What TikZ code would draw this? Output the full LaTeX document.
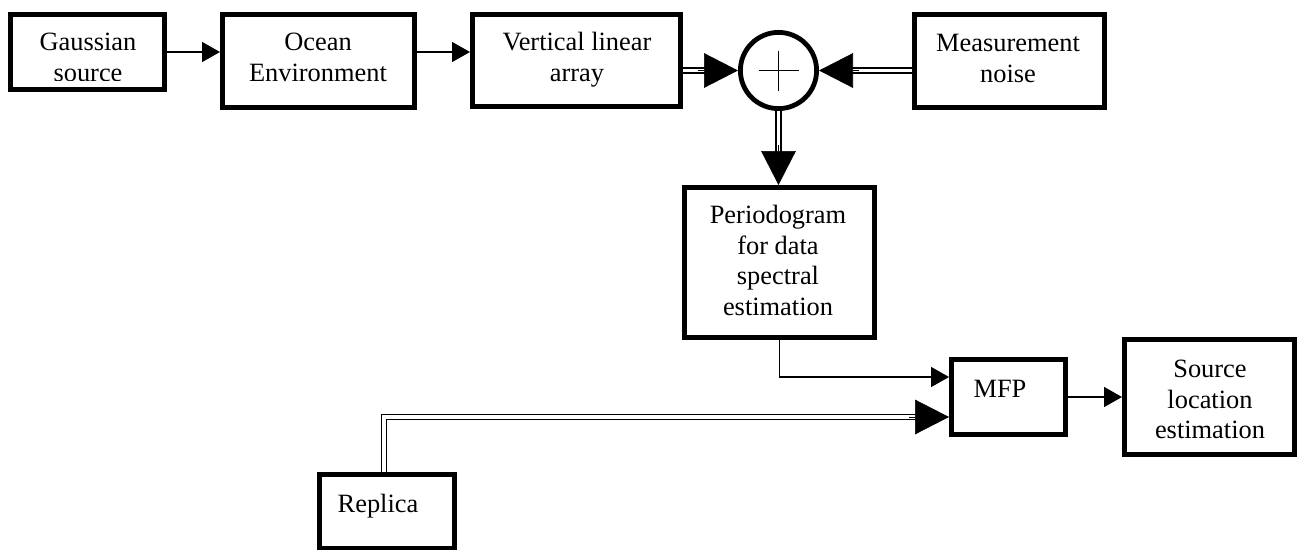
\documentclass[tikz,border=0pt]{standalone}
\usepackage{fontspec}
\setmainfont{Liberation Serif}
\usetikzlibrary{arrows.meta}
\tikzset{
  blk/.style={draw, line width=3.6pt, inner sep=0pt},
  lbl/.style={inner sep=0pt, align=center, font=\fontsize{19.8}{22.9}\selectfont},
  thinline/.style={line width=1.1pt},
  arr/.style={thinline, -{Triangle[length=13.5pt,width=15pt]}},
  dbl/.style={double, line width=1.4pt, double distance=2.4pt},
  bigarr/.style={line width=0.5pt, -{Triangle[length=25.5pt,width=26pt]}},
}
\begin{document}
\begin{tikzpicture}[x=0.75pt,y=-0.75pt]
\useasboundingbox (0,0) rectangle (1297,550);

% blocks
\node[blk, minimum width=115.65pt, minimum height=56.4pt] (G) at (87.5,52) {};
\node[blk, minimum width=144.15pt, minimum height=69.9pt] (O) at (318.5,61) {};
\node[blk, minimum width=156.15pt, minimum height=69.15pt] (V) at (576.5,60.5) {};
\node[blk, minimum width=142.65pt, minimum height=69.9pt] (M) at (1009.5,61) {};
\node[blk, circle, minimum size=57.15pt] (C) at (778.5,70.5) {};
\node[blk, minimum width=142.65pt, minimum height=112.65pt] (P) at (779.5,262.5) {};
\node[blk, minimum width=85.65pt, minimum height=56.4pt] (MFP) at (1008.5,397) {};
\node[blk, minimum width=127.65pt, minimum height=86.4pt] (S) at (1209.5,397) {};
\node[blk, minimum width=101.4pt, minimum height=55.65pt] (R) at (387,511.5) {};

% summing junction
\draw[thinline] ([xshift=-15pt]C.center) -- ([xshift=15pt]C.center);
\draw[thinline] ([yshift=15pt]C.center) -- ([yshift=-15pt]C.center);

% labels (the lower line of the first block is cut off by its frame area)
\begin{scope}
  \clip (8,12) rectangle (167,80);
  \node[lbl] (Gt) at (88,57.5) {Gaussian\\source};
\end{scope}
\node[lbl] (Ot) at (318,57.5) {Ocean\\Environment};
\node[lbl] (Vt) at (577,59.5) {Vertical linear\\array};
\node[lbl] (Mt) at (1008,58.4) {Measurement\\noise};
\node[lbl] (Pt) at (778,260.5) {Periodogram\\for data\\spectral\\estimation};
\node[lbl] (MFt) at (1000,389) {MFP};
\node[lbl] (St) at (1210,399.5) {Source\\location\\estimation};
\node[lbl] (Rt) at (378,506) {Replica};

% connection points
\coordinate (Pin) at (P.north -| C.south);
\coordinate (Min1) at ([yshift=15pt]MFP.west);
\coordinate (Min2) at ([yshift=-15pt]MFP.west);

% single-line connectors
\draw[arr] (G.east) -- (G.east -| O.west);
\draw[arr] (O.east |- G.east) -- (V.west |- G.east);
\draw[arr] (P.south) |- (Min1);
\draw[arr] (MFP.east) -- (S.west);

% double-line connectors
\draw[dbl] (V.east |- C.center) -- ([xshift=-22pt]C.west);
\draw[bigarr] ([xshift=-30pt]C.west) -- (C.west);
\draw[dbl] (M.west |- C.center) -- ([xshift=22pt]C.east);
\draw[bigarr] ([xshift=30pt]C.east) -- (C.east);
\draw[dbl] (C.south) -- ([yshift=22pt]Pin);
\draw[bigarr] ([yshift=30pt]Pin) -- (Pin);
\draw[dbl] ([xshift=-2.25pt]R.north) |- ([xshift=-22pt]Min2);
\draw[bigarr] ([xshift=-30pt]Min2) -- (Min2);
\end{tikzpicture}
\end{document}
